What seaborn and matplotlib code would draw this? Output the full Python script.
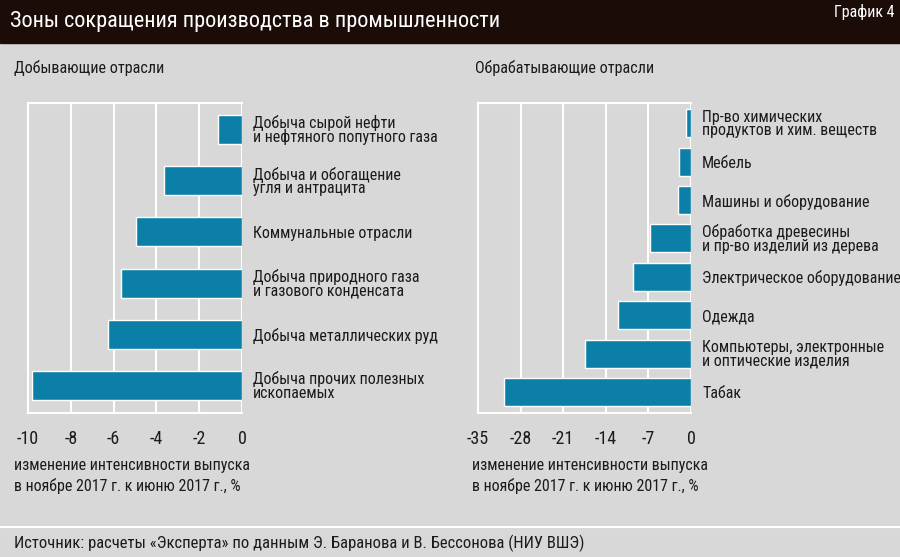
import matplotlib
matplotlib.use("Agg")
import matplotlib.pyplot as plt
import pandas as pd
import seaborn as sns
from matplotlib import font_manager
from matplotlib.patches import Rectangle
from matplotlib.lines import Line2D

# data
mining_labels = [
    "Добыча сырой нефти\nи нефтяного попутного газа",
    "Добыча и обогащение\nугля и антрацита",
    "Коммунальные отрасли",
    "Добыча природного газа\nи газового конденсата",
    "Добыча металлических руд",
    "Добыча прочих полезных\nископаемых",
]
mining_values = [-1.1, -3.65, -4.95, -5.65, -6.25, -9.8]
mining_ticks = [-10, -8, -6, -4, -2, 0]

manuf_labels = [
    "Пр-во химических\nпродуктов и хим. веществ",
    "Мебель",
    "Машины и оборудование",
    "Обработка древесины\nи пр-во изделий из дерева",
    "Электрическое оборудование",
    "Одежда",
    "Компьютеры, электронные\nи оптические изделия",
    "Табак",
]
manuf_values = [-0.9, -2.0, -2.2, -6.7, -9.6, -12.0, -17.4, -30.7]
manuf_ticks = [-35, -28, -21, -14, -7, 0]

BG = "#d8d8d8"
BAR = "#0b7fa7"
TXT = "#1b1b1b"
HEAD = "#1c0c08"

sns.set_theme(style="white")
installed = {f.name for f in font_manager.fontManager.ttflist}
prefer = ["Liberation Sans Narrow", "DejaVu Sans Condensed", "Roboto Condensed",
          "Open Sans Condensed", "Liberation Sans"]
plt.rcParams["font.family"] = [f for f in prefer if f in installed] + ["DejaVu Sans"]

W, H = 900, 557
fig = plt.figure(figsize=(9, 5.57), dpi=100, facecolor=BG)


def fx(px):
    return px / W


def fy(py):
    return 1 - py / H


ax1 = fig.add_axes([fx(28), fy(413), 214 / W, 310 / H])
ax2 = fig.add_axes([fx(478), fy(413), 213 / W, 310 / H])


def draw(ax, labels, values, ticks, width, ylim):
    df = pd.DataFrame({"sector": labels, "change": values})
    sns.barplot(data=df, x="change", y="sector", orient="h", color=BAR,
                width=width, saturation=1, ax=ax)
    ax.set_facecolor(BG)
    ax.set_xlim(ticks[0], ticks[-1])
    ax.set_ylim(*ylim)
    ax.set_xticks(ticks)
    ax.set_xticklabels([str(t) for t in ticks])
    ax.grid(axis="x", color="white", lw=1.5)
    ax.grid(axis="y", visible=False)
    ax.set_axisbelow(True)
    ax.yaxis.tick_right()
    ax.tick_params(axis="y", length=0, pad=8, labelsize=11.5, labelcolor=TXT)
    for t in ax.get_yticklabels():
        t.set_linespacing(0.85)
        t.set_ha("left")
    ax.tick_params(axis="x", length=7, width=1.5, color="white", pad=5,
                   labelsize=13, labelcolor=TXT)
    for s in ["top", "bottom", "left"]:
        ax.spines[s].set_color("white")
        ax.spines[s].set_linewidth(1.5)
    ax.spines["right"].set_visible(False)
    ax.set_xlabel("")
    ax.set_ylabel("")


draw(ax1, mining_labels, mining_values, mining_ticks, 0.565, (5.54, -0.52))
draw(ax2, manuf_labels, manuf_values, manuf_ticks, 0.73, (7.55, -0.53))

# header band
fig.patches.append(Rectangle((0, fy(43)), 1, 43 / H, transform=fig.transFigure,
                             color=HEAD, zorder=0))
fig.text(fx(10), fy(22), "Зоны сокращения производства в промышленности",
         color="white", fontsize=16, va="center", ha="left")
fig.text(fx(895), fy(12), "График 4", color="white", fontsize=11.5,
         va="center", ha="right")

fig.text(fx(14), fy(68), "Добывающие отрасли", color=TXT, fontsize=11.6, va="center")
fig.text(fx(475), fy(68), "Обрабатывающие отрасли", color=TXT, fontsize=11.6, va="center")

caption = "изменение интенсивности выпуска\nв ноябре 2017 г. к июню 2017 г., %"
fig.text(fx(14), fy(476), caption, color=TXT, fontsize=11.5, va="center",
         linespacing=1.4)
fig.text(fx(472), fy(476), caption, color=TXT, fontsize=11.5, va="center",
         linespacing=1.4)

fig.lines.append(Line2D([0, 1], [fy(527), fy(527)], transform=fig.transFigure,
                        color="white", lw=1.5))
fig.text(fx(14), fy(543),
         "Источник: расчеты «Эксперта» по данным Э. Баранова и В. Бессонова (НИУ ВШЭ)",
         color=TXT, fontsize=12, va="center")

fig.savefig("out.png", dpi=100, facecolor=BG)
